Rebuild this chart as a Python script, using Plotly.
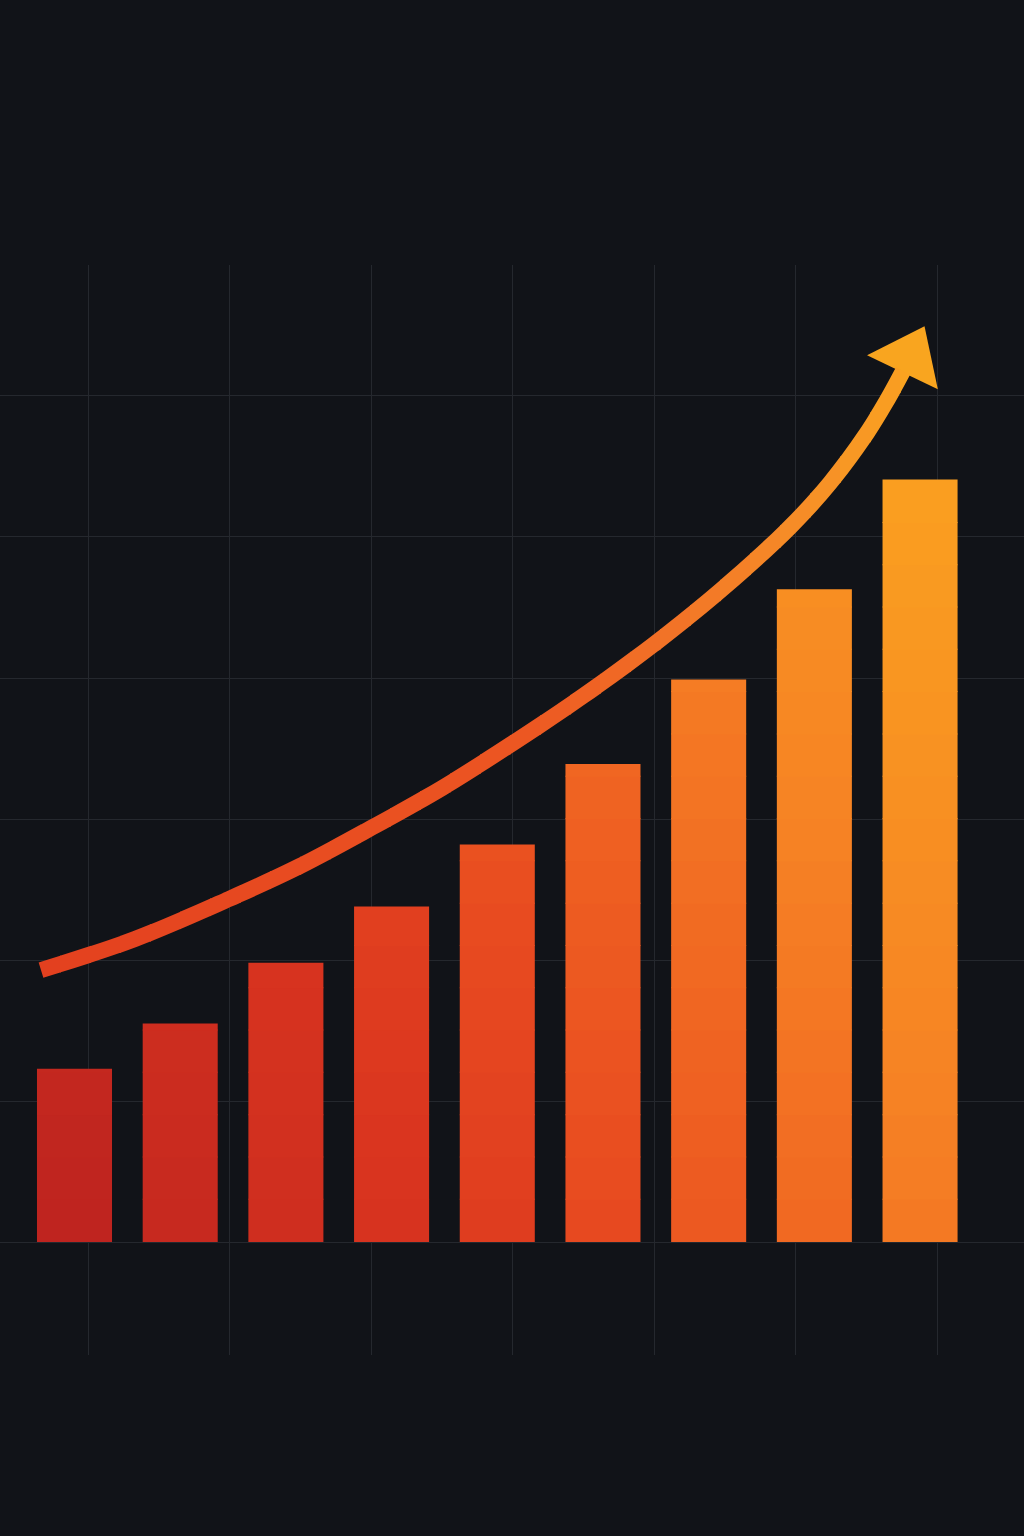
import plotly.graph_objects as go
from plotly.colors import sample_colorscale

# ---- data ----
periods = list(range(9))
values = [123, 155, 198, 238, 282, 339, 399, 463, 542]

# trend arrow (x in period units, y in value units); last point = arrow head
trend_x = [-0.317, 0.572, 1.462, 2.134, 2.805, 3.477, 4.149, 4.811,
           5.473, 6.117, 6.770, 7.148, 7.498, 7.678, 7.839, 7.903]
trend_y = [192.9, 214.9, 243.3, 266.7, 293.6, 322.0, 353.9, 387.2,
           423.4, 462.4, 507.1, 538.3, 573.8, 595.7, 617.7, 627.7]

# ---- style ----
BG = "#111318"
GRID = "#25282e"
LINE_W = 16
W, H = 1024, 1536
X_RANGE = [-0.7049, 8.9835]
Y_RANGE = [-80.1, 692.9]
Y_DOMAIN = [0.1178, 0.8275]
bar_scale = [[0.0, "#BE241F"], [0.3, "#DA351F"], [0.45, "#E84A20"],
             [0.6, "#F06522"], [0.75, "#F68224"], [1.0, "#FBA51F"]]
line_scale = [[0.0, "#E3401F"], [0.54, "#EC5622"], [0.7, "#F27127"],
              [0.86, "#F68E27"], [1.0, "#FAA61F"]]

fig = go.Figure()
axes_cfg = {}

# ---- arrow head (on the main grid subplot, drawn first) ----
fig.add_trace(go.Scatter(
    x=trend_x[-2:], y=trend_y[-2:], mode="markers",
    marker=dict(symbol="triangle-up", size=[0, 68], color="#F9A51F",
                opacity=1, angleref="previous", line=dict(width=0)),
    hoverinfo="skip", showlegend=False,
))

xs = X_RANGE[1] - X_RANGE[0]
ys = (Y_RANGE[1] - Y_RANGE[0]) / (Y_DOMAIN[1] - Y_DOMAIN[0])

# band layouts
band_edges_v = [-5] + list(range(30, 561, 30))          # bars, in value units
edges_px = [0] + list(range(60, 941, 30)) + [W]          # line, in pixels
NB = len(band_edges_v) - 1
NL = len(edges_px) - 1
BAR_X = NL + 2          # x axis id used by the bar bands
LINE_Y = NB + 2         # y axis id used by the line bands

axes_cfg["xaxis%d" % BAR_X] = dict(domain=[0, 1], range=X_RANGE, visible=False,
                                   fixedrange=True, anchor="y2")
axes_cfg["yaxis%d" % LINE_Y] = dict(domain=Y_DOMAIN, range=Y_RANGE, visible=False,
                                    fixedrange=True, anchor="x2")

# ---- bars: drawn in horizontal colour bands (vertical gradient) ----
ymax = max(values)
for k in range(NB):
    v0, v1 = band_edges_v[k], band_edges_v[k + 1]
    d0 = Y_DOMAIN[0] + (v0 - Y_RANGE[0]) / ys
    d1 = Y_DOMAIN[0] + (v1 - Y_RANGE[0]) / ys + 1.0 / H
    vc = (v0 + v1) / 2
    cols = [sample_colorscale(bar_scale, [min(1, 0.70 * i / 8 + 0.26 * max(vc, 0) / ymax)])[0]
            for i in periods]
    axn = k + 2
    axes_cfg["yaxis%d" % axn] = dict(
        domain=[d0, d1],
        range=[Y_RANGE[0] + (d0 - Y_DOMAIN[0]) * ys, Y_RANGE[0] + (d1 - Y_DOMAIN[0]) * ys],
        visible=False, fixedrange=True, anchor="x%d" % BAR_X)
    fig.add_trace(go.Bar(
        x=periods, y=values, width=0.71,
        xaxis="x%d" % BAR_X, yaxis="y%d" % axn,
        marker=dict(color=cols, line=dict(width=0)),
        hoverinfo="skip", showlegend=False,
    ))

# ---- trend line: one smooth spline, drawn in vertical colour bands ----
px0, px1 = 41, 930
for k in range(NL):
    d0 = edges_px[k] / W
    d1 = min(1.0, edges_px[k + 1] / W + 1.0 / W)
    pc = (edges_px[k] + edges_px[k + 1]) / 2
    t = min(1, max(0, (pc - px0) / (px1 - px0)))
    col = sample_colorscale(line_scale, [t])[0]
    axn = k + 2
    axes_cfg["xaxis%d" % axn] = dict(
        domain=[d0, d1],
        range=[X_RANGE[0] + d0 * xs, X_RANGE[0] + d1 * xs],
        visible=False, fixedrange=True, anchor="y%d" % LINE_Y)
    fig.add_trace(go.Scatter(
        x=trend_x[:-1], y=trend_y[:-1], mode="lines",
        xaxis="x%d" % axn, yaxis="y%d" % LINE_Y,
        line=dict(color=col, width=LINE_W, shape="spline", smoothing=1.0),
        hoverinfo="skip", showlegend=False,
    ))

fig.update_layout(
    width=W, height=H,
    margin=dict(l=0, r=0, t=0, b=0),
    paper_bgcolor=BG, plot_bgcolor="rgba(0,0,0,0)",
    xaxis=dict(range=X_RANGE, domain=[0, 1],
               showgrid=True, gridcolor=GRID, gridwidth=1,
               tick0=0.1277, dtick=1.3388,
               showticklabels=False, zeroline=False, ticks="",
               showline=False, fixedrange=True),
    yaxis=dict(range=Y_RANGE, domain=Y_DOMAIN,
               showgrid=True, gridcolor=GRID, gridwidth=1,
               tick0=0, dtick=100,
               showticklabels=False, zeroline=False, ticks="",
               showline=False, fixedrange=True),
    **axes_cfg,
)

fig.write_html(
    "out.html",
    config={"displayModeBar": False, "staticPlot": True},
    post_script="document.body.style.margin='0';"
                "document.body.style.overflow='hidden';"
                "document.body.style.background='%s';" % BG,
)
